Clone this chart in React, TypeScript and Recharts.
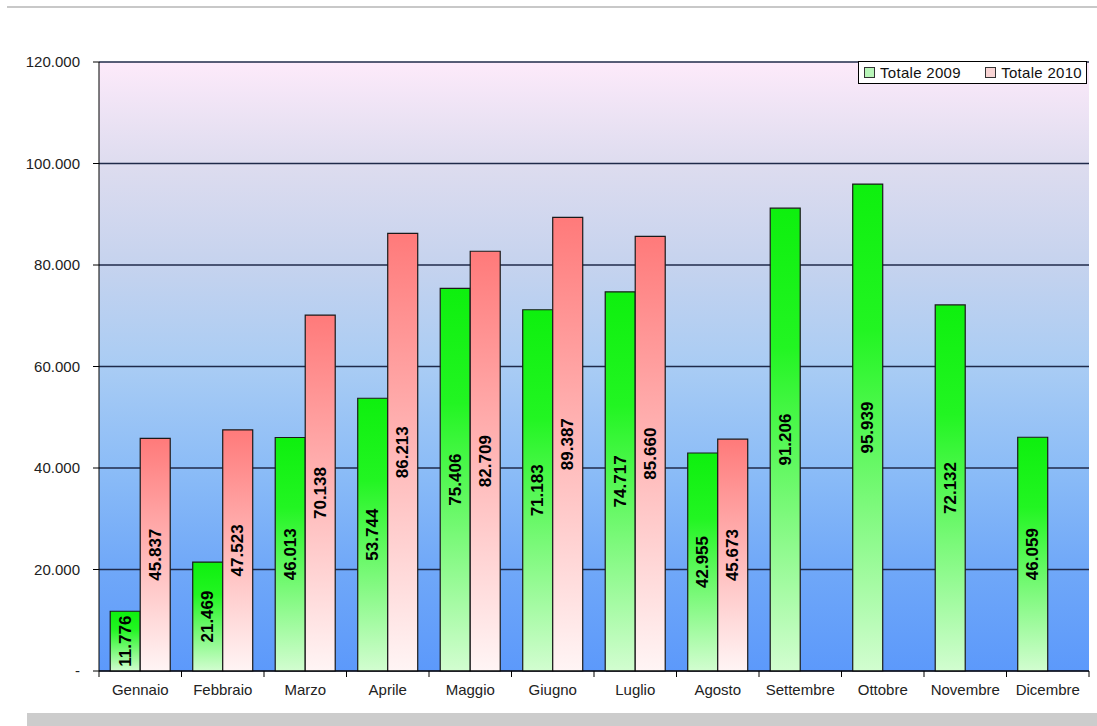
import React from "react";
import {
  BarChart,
  Bar,
  XAxis,
  YAxis,
  CartesianGrid,
  Legend,
  LabelList,
} from "recharts";

const months = [
  "Gennaio", "Febbraio", "Marzo", "Aprile", "Maggio", "Giugno",
  "Luglio", "Agosto", "Settembre", "Ottobre", "Novembre", "Dicembre",
];
const totale2009 = [11776, 21469, 46013, 53744, 75406, 71183, 74717, 42955, 91206, 95939, 72132, 46059];
const totale2010: (number | null)[] = [45837, 47523, 70138, 86213, 82709, 89387, 85660, 45673, null, null, null, null];
const yTicks = [0, 20000, 40000, 60000, 80000, 100000, 120000];

const data = months.map((m, i) => ({ month: m, t2009: totale2009[i], t2010: totale2010[i] }));

const FONT = "'Liberation Sans', Arial, sans-serif";
const fmt = (v: number) => (v === 0 ? "-" : v.toLocaleString("it-IT"));

const CHART_W = 1097;
const CHART_H = 713;
const MARGIN = { top: 62, right: 8, left: 0, bottom: 0 };
const Y_W = 99;
const BAND = (CHART_W - Y_W - MARGIN.right) / months.length;

function MonthTick(props: any) {
  const { x, y, payload, index } = props;
  return (
    <g>
      <line x1={x - BAND / 2} x2={x - BAND / 2} y1={y - 8} y2={y - 2} stroke="#000" />
      {index === months.length - 1 && (
        <line x1={x + BAND / 2} x2={x + BAND / 2} y1={y - 8} y2={y - 2} stroke="#000" />
      )}
      <text x={x} y={y + 16} textAnchor="middle" fontSize={15} fontFamily={FONT} fill="#222">
        {payload.value}
      </text>
    </g>
  );
}

function BarValue(props: any) {
  const { x, y, width, height, value } = props;
  if (value == null) return null;
  const cx = x + width / 2;
  const cy = y + height / 2;
  return (
    <text
      x={cx}
      y={cy}
      transform={`rotate(-90 ${cx} ${cy})`}
      textAnchor="middle"
      dominantBaseline="central"
      fontSize={17}
      fontWeight="bold"
      fontFamily={FONT}
      fill="#000"
    >
      {fmt(value)}
    </text>
  );
}

function LegendBox() {
  const item = (fill: string, label: string) => (
    <span style={{ display: "inline-flex", alignItems: "center" }}>
      <span style={{ width: 9, height: 9, background: fill, border: "1px solid #333", marginRight: 5 }} />
      {label}
    </span>
  );
  return (
    <div
      style={{
        border: "1px solid #000",
        background: "#fff",
        fontFamily: FONT,
        fontSize: 15,
        color: "#111",
        boxSizing: "border-box",
        width: 229,
        padding: "1px 4px 1px 5px",
        display: "flex",
        justifyContent: "space-between",
        lineHeight: "19px",
        whiteSpace: "nowrap",
        letterSpacing: 0.3,
      }}
    >
      {item("#b8f5b8", "Totale 2009")}
      {item("#f8d4d4", "Totale 2010")}
    </div>
  );
}

export default function App() {
  return (
    <div style={{ position: "absolute", left: 0, top: 0, width: 1097, height: 726, background: "#fff", overflow: "hidden" }}>
      <div style={{ position: "absolute", left: 7, right: 0, top: 6, height: 2, background: "#c8c8c8" }} />
      <div style={{ position: "absolute", left: 27, right: 0, top: 713, bottom: 0, background: "#cccccc" }} />
      <BarChart
        width={CHART_W}
        height={CHART_H}
        data={data}
        margin={MARGIN}
        barCategoryGap="13.6%"
        barGap={0}
      >
        <defs>
          <linearGradient id="bgGrad" x1="0" y1="0" x2="0" y2="1">
            <stop offset="0%" stopColor="#fdeafa" />
            <stop offset="17%" stopColor="#dddcef" />
            <stop offset="33%" stopColor="#c6d3ee" />
            <stop offset="50%" stopColor="#a9ccf4" />
            <stop offset="67%" stopColor="#8bbcf7" />
            <stop offset="83%" stopColor="#70a8f8" />
            <stop offset="100%" stopColor="#5c99fb" />
          </linearGradient>
          <linearGradient id="greenGrad" x1="0" y1="0" x2="0" y2="1">
            <stop offset="0%" stopColor="#0ef00e" />
            <stop offset="30%" stopColor="#22f522" />
            <stop offset="100%" stopColor="#d2fdd0" />
          </linearGradient>
          <linearGradient id="redGrad" x1="0" y1="0" x2="0" y2="1">
            <stop offset="0%" stopColor="#ff7a7a" />
            <stop offset="100%" stopColor="#fff5f5" />
          </linearGradient>
        </defs>
        <CartesianGrid
          vertical={false}
          fill="url(#bgGrad)"
          fillOpacity={1}
          stroke="#1f2a4a"
          strokeWidth={1.3}
        />
        <XAxis
          dataKey="month"
          height={CHART_H - MARGIN.top - 609}
          axisLine={{ stroke: "#000" }}
          tickLine={false}
          tick={<MonthTick />}
          interval={0}
        />
        <YAxis
          width={Y_W}
          domain={[0, 120000]}
          ticks={yTicks}
          tickFormatter={fmt}
          axisLine={{ stroke: "#000" }}
          tickLine={{ stroke: "#000" }}
          tickSize={6}
          tickMargin={13}
          tick={{ fontSize: 15, fontFamily: FONT, fill: "#222" }}
        />
        <Legend
          verticalAlign="middle"
          align="center"
          content={() => <LegendBox />}
          wrapperStyle={{ top: 61, left: 858, width: "auto", height: "auto" }}
        />
        <Bar dataKey="t2009" name="Totale 2009" fill="url(#greenGrad)" stroke="#1a1a1a" strokeWidth={1.2} isAnimationActive={false}>
          <LabelList dataKey="t2009" content={<BarValue />} />
        </Bar>
        <Bar dataKey="t2010" name="Totale 2010" fill="url(#redGrad)" stroke="#1a1a1a" strokeWidth={1.2} isAnimationActive={false}>
          <LabelList dataKey="t2010" content={<BarValue />} />
        </Bar>
      </BarChart>
    </div>
  );
}
